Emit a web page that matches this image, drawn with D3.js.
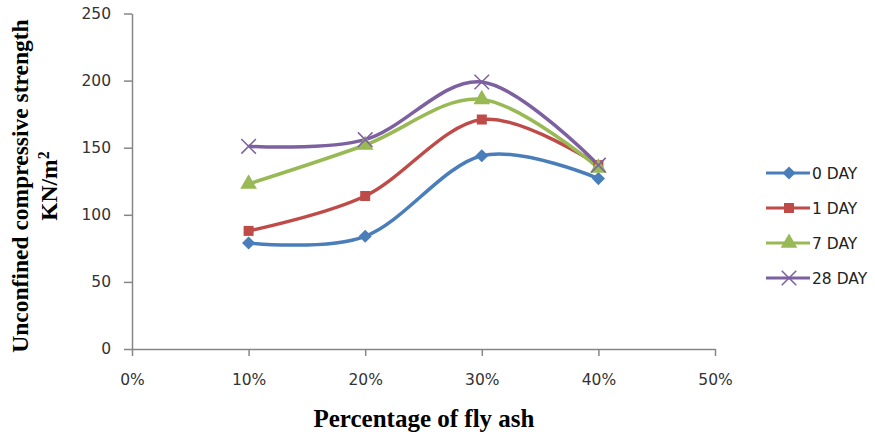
<!DOCTYPE html>
<html>
<head>
<meta charset="utf-8">
<script src="https://cdn.jsdelivr.net/npm/d3@7"></script>
<style>
  html, body { margin: 0; padding: 0; background: #fff; }
  svg { display: block; }
</style>
</head>
<body>
<svg id="chart" width="875" height="437"></svg>
<script>
// Fly ash percentage (x) and unconfined compressive strength per curing age
const ashPercent = [0.10, 0.20, 0.30, 0.40];
const seriesNames = ["0 DAY", "1 DAY", "7 DAY", "28 DAY"];
const day0  = [79, 84, 144, 127];
const day1  = [88, 114, 171, 137];
const day7  = [123, 152, 186, 135];
const day28 = [151, 156, 199, 137];
const xTicks = [0, 0.1, 0.2, 0.3, 0.4, 0.5];
const yTicks = [0, 50, 100, 150, 200, 250];

const colors  = ["#4a7ebb", "#be4b48", "#98b954", "#7d60a0"];
const symbols = [d3.symbolDiamond2, d3.symbolSquare, d3.symbolTriangle, d3.symbolX];
const symSize = [110, 100, 120, 140];

const series = [day0, day1, day7, day28].map((vals, i) => ({
  name: seriesNames[i],
  points: vals.map((v, j) => ({ x: ashPercent[j], y: v }))
}));

const svg = d3.select("#chart");
const plotLeft = 132, plotRight = 715, plotTop = 13.5, plotBottom = 349;

const x = d3.scaleLinear().domain([0, 0.5]).range([plotLeft, plotRight]);
const y = d3.scaleLinear().domain([0, 250]).range([plotBottom, plotTop]);

const axisColor = "#868686";
const tickFont = "'DejaVu Sans', Verdana, sans-serif";
const tickSize = "15.5px";

// X axis
const xAxis = svg.append("g")
  .attr("transform", `translate(0,${plotBottom})`)
  .call(d3.axisBottom(x).tickValues(xTicks).tickFormat(d3.format(".0%"))
        .tickSizeInner(7).tickSizeOuter(0).tickPadding(18));
xAxis.select(".domain").attr("stroke", axisColor).attr("stroke-width", 1.5);
xAxis.selectAll(".tick line").attr("stroke", axisColor).attr("stroke-width", 1.5);
xAxis.selectAll("text").attr("fill", "#333").style("font-family", tickFont).style("font-size", tickSize);

// Y axis
const yAxis = svg.append("g")
  .attr("transform", `translate(${plotLeft},0)`)
  .call(d3.axisLeft(y).tickValues(yTicks)
        .tickSizeInner(8).tickSizeOuter(0).tickPadding(13));
yAxis.select(".domain").attr("stroke", axisColor).attr("stroke-width", 1.5);
yAxis.selectAll(".tick line").attr("stroke", axisColor).attr("stroke-width", 1.5);
yAxis.selectAll("text").attr("fill", "#333").style("font-family", tickFont).style("font-size", tickSize);

// Smoothed series lines
const line = d3.line()
  .x(d => x(d.x)).y(d => y(d.y))
  .curve(d3.curveCatmullRom.alpha(0));

const g = svg.append("g");
series.forEach((s, i) => {
  g.append("path")
    .datum(s.points)
    .attr("fill", "none")
    .attr("stroke", colors[i])
    .attr("stroke-width", 3.5)
    .attr("stroke-linejoin", "round")
    .attr("d", line);
});
series.forEach((s, i) => {
  g.selectAll(null)
    .data(s.points)
    .join("path")
    .attr("transform", d => `translate(${x(d.x)},${y(d.y)})`)
    .attr("d", d3.symbol(symbols[i], symSize[i]))
    .attr("fill", i === 3 ? "none" : colors[i])
    .attr("stroke", colors[i])
    .attr("stroke-width", i === 3 ? 1.5 : 0);
});

// Legend
const legend = svg.append("g").attr("transform", "translate(766,173)");
series.forEach((s, i) => {
  const row = legend.append("g").attr("transform", `translate(0,${i * 35})`);
  row.append("line").attr("x1", 0).attr("x2", 44).attr("y1", 0).attr("y2", 0)
    .attr("stroke", colors[i]).attr("stroke-width", 3);
  row.append("path").attr("transform", "translate(23,0)")
    .attr("d", d3.symbol(symbols[i], symSize[i]))
    .attr("fill", i === 3 ? "none" : colors[i])
    .attr("stroke", colors[i])
    .attr("stroke-width", i === 3 ? 1.5 : 0);
  row.append("text").attr("x", 46).attr("y", 0).attr("dy", "0.36em")
    .attr("fill", "#222").style("font-family", tickFont).style("font-size", tickSize)
    .text(s.name);
});

// Axis titles
const titleFont = "'Liberation Serif', 'Times New Roman', serif";
svg.append("text")
  .attr("x", 424).attr("y", 427)
  .attr("text-anchor", "middle")
  .style("font-family", titleFont).style("font-weight", "bold").style("font-size", "25px")
  .attr("fill", "#000")
  .text("Percentage of fly ash");

const yTitle = svg.append("text")
  .attr("transform", "translate(0,186) rotate(-90)")
  .attr("text-anchor", "middle")
  .style("font-family", titleFont).style("font-weight", "bold").style("font-size", "23.5px")
  .attr("fill", "#000");
yTitle.append("tspan").attr("x", 0).attr("y", 28).text("Unconfined compressive strength");
yTitle.append("tspan").attr("x", 0).attr("y", 57).text("KN/m");
yTitle.append("tspan").attr("dy", "-0.5em").style("font-size", "16px").text("2");
</script>
</body>
</html>
